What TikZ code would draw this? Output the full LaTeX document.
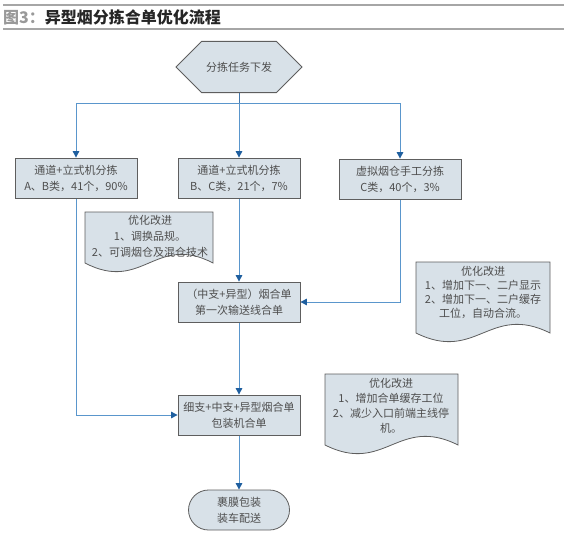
\documentclass[tikz,border=0pt]{standalone}
\usepackage{fontspec}
\setmainfont{Noto Sans CJK SC}
\usepackage{xcolor}
\usetikzlibrary{shapes.misc,arrows.meta,calc,positioning,backgrounds}
\definecolor{boxfill}{HTML}{D8E1E8}
\definecolor{boxline}{HTML}{5E5E5E}
\definecolor{flowline}{HTML}{5A96CC}
\definecolor{flowtip}{HTML}{1F5F9F}
\definecolor{txt}{HTML}{4E4E4E}
\tikzset{
  proc/.style={rectangle,fill=boxfill,draw=boxline,line width=0.8bp,minimum width=122bp,minimum height=40bp,
    align=center,text=txt,font=\fontsize{11bp}{16bp}\selectfont,inner sep=1bp},
  hexa/.style={chamfered rectangle,chamfered rectangle xsep=14bp,chamfered rectangle ysep=19.5bp,
    fill=boxfill,draw=boxline,line width=0.8bp,minimum width=126bp,minimum height=39bp,inner sep=1bp,
    text=txt,font=\fontsize{11bp}{16bp}\selectfont},
  term/.style={rounded rectangle,fill=boxfill,draw=boxline,line width=0.8bp,minimum width=103bp,minimum height=40bp,
    align=center,text=txt,font=\fontsize{11bp}{16bp}\selectfont,inner sep=1bp},
  notetxt/.style={align=center,text=txt,inner sep=0pt},
  docline/.style={fill=boxfill,draw=boxline,line width=0.8bp},
  flow/.style={draw=flowline,line width=1bp,-{Triangle[length=6.5bp,width=6.5bp,color=flowtip]}},
  plain/.style={draw=flowtip!85,line width=1bp}
}
% note shape: x0, top, x1, bottom
\newcommand{\docshape}[4]{%
  \draw[docline] (#1,#2) -- (#3,#2) -- (#3,#4)
    .. controls ({#3-0.45*(#3-#1)},{#4-30}) and ({#1+0.45*(#3-#1)},{#4+30}) .. (#1,#4) -- cycle;}
\begin{document}
\begin{tikzpicture}[x=1bp,y=-1bp]
\useasboundingbox (0,0) rectangle (567,536);
% title
\draw[gray!70,line width=2bp] (3,5) -- (564,5);
\draw[gray!70,line width=1.5bp] (3,29) -- (564,29);
\node[anchor=west,inner sep=0pt,font=\fontsize{16bp}{18bp}\selectfont\bfseries] (title) at (3,17)
  {\textcolor{gray!80}{图3：}\textcolor{black!85}{异型烟分拣合单优化流程}};

% flow nodes
\node[hexa] (task) at (239,67) {分拣任务下发};
\node[proc] (b1) at (76,178) {通道+立式机分拣\\A、B类，41个，90\%};
\node[proc] (b2) at (239,178) {通道+立式机分拣\\B、C类，21个，7\%};
\node[proc] (b3) at (400,179) {虚拟烟仓手工分拣\\C类，40个，3\%};
\node[proc] (b4) at (239,302) {（中支+异型）烟合单\\第一次输送线合单};
\node[proc] (b5) at (239,415) {细支+中支+异型烟合单\\包装机合单};
\node[term] (done) at (239,510) {裹膜包装\\装车配送};
\coordinate (split) at (239,104);

% notes
\docshape{85}{212}{213}{263}
\node[notetxt,font=\fontsize{11bp}{16bp}\selectfont] (n1) at (150,236)
  {优化改进\\1、调换品规。\\2、可调烟仓及混仓技术};
\docshape{416}{262}{550}{333}
\node[notetxt,font=\fontsize{11bp}{14bp}\selectfont] (n2) at (483,292)
  {优化改进\\1、增加下一、二户显示\\2、增加下一、二户缓存\\工位，自动合流。};
\docshape{325}{374}{458}{445}
\node[notetxt,font=\fontsize{11bp}{15bp}\selectfont] (n3) at (391,406)
  {优化改进\\1、增加合单缓存工位\\2、减少入口前端主线停\\机。};

% connectors
\begin{scope}[on background layer]
\draw[plain] (task.south) -- (split);
\draw[flow] (split) -- (b2.north);
\draw[flow] (split) -| (b1.north);
\draw[flow] (split) -| (b3.north);
\draw[flow] (b2.south) -- (b4.north);
\draw[flow] (b3.south) |- (b4.east);
\draw[flow] (b1.south) |- (b5.west);
\draw[flow] (b4.south) -- (b5.north);
\draw[flow] (b5.south) -- (done.north);
\end{scope}
\end{tikzpicture}
\end{document}
